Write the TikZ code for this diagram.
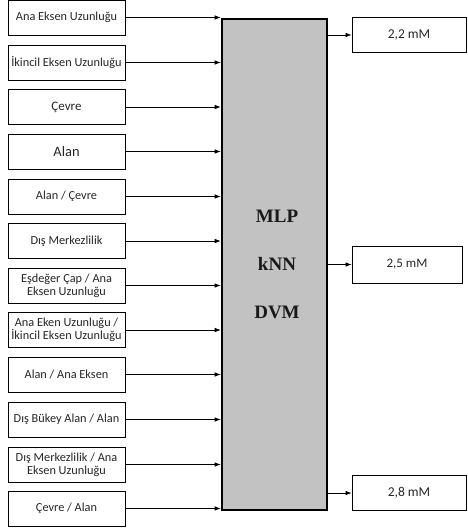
\documentclass[tikz,border=0pt]{standalone}
\usepackage{fontspec}
\setmainfont{Carlito}
\newfontfamily\serifbold{Liberation Serif}
\usetikzlibrary{arrows.meta}
\begin{document}
\begin{tikzpicture}[x=1pt,y=-1pt,
  inbox/.style={draw=black,line width=0.8pt,minimum width=117pt,minimum height=35pt,
    inner sep=0pt,align=center,font=\fontsize{12.3}{12.8}\selectfont,text=black!85},
  outbox/.style={draw=black,line width=0.8pt,minimum height=35pt,
    inner sep=0pt,align=center,font=\fontsize{13.5}{15}\selectfont,text=black!85},
  arr/.style={-{Latex[length=6pt,width=4.5pt]},line width=0.7pt},
  model/.style={font=\serifbold\bfseries\fontsize{19}{21}\selectfont,text=black!90}]
\useasboundingbox (0,0) rectangle (467,528);
% central box
\node[draw=black,line width=2.6pt,fill=black!24,minimum width=105pt,minimum height=491pt,inner sep=0pt] (c) at (274.5,264.5) {};
\node[model] (m1) at (277,216) {MLP};
\node[model] (m2) at (277,264) {kNN};
\node[model] (m3) at (277,312) {DVM};
% inputs
\node[inbox] (i1) at (66.5,17.5) {Ana Eksen Uzunluğu};
\node[inbox] (i2) at (66.5,62.5) {İkincil Eksen Uzunluğu};
\node[inbox,font=\fontsize{13}{14}\selectfont] (i3) at (66.5,107) {Çevre};
\node[inbox,font=\fontsize{14.5}{16}\selectfont] (i4) at (66.5,151.5) {Alan};
\node[inbox] (i5) at (66.5,196.5) {Alan / Çevre};
\node[inbox] (i6) at (66.5,241) {Dış Merkezlilik};
\node[inbox] (i7) at (66.5,285.5) {Eşdeğer Çap / Ana\\Eksen Uzunluğu};
\node[inbox] (i8) at (66.5,330) {Ana Eken Uzunluğu /\\İkincil Eksen Uzunluğu};
\node[inbox] (i9) at (66.5,374.5) {Alan / Ana Eksen};
\node[inbox] (i10) at (66.5,419.5) {Dış Bükey Alan / Alan};
\node[inbox] (i11) at (66.5,464.5) {Dış Merkezlilik / Ana\\Eksen Uzunluğu};
\node[inbox] (i12) at (66.5,508.5) {Çevre / Alan};
\foreach \i in {1,...,12}{
  \draw[arr] (i\i.east) -- (i\i.east -| c.west);
}
% outputs
\node[outbox,minimum width=114pt] (o1) at (409,35) {2,2 mM};
\node[outbox,minimum width=110pt,minimum height=37pt,font=\fontsize{13}{15}\selectfont] (o2) at (407,264.5) {2,5 mM};
\node[outbox,minimum width=114pt] (o3) at (409,493) {2,8 mM};
\foreach \i in {1,2,3}{
  \draw[arr] (o\i.west -| c.east) -- (o\i.west);
}
\end{tikzpicture}
\end{document}
